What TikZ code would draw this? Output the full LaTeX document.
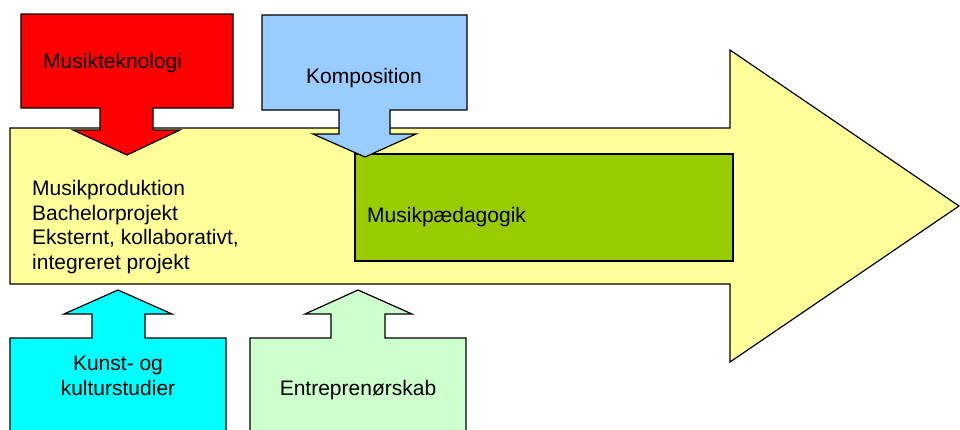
\documentclass[tikz,border=0pt]{standalone}
\usepackage{fontspec}
\setmainfont{Liberation Sans}
\definecolor{cRed}{HTML}{FF0000}
\definecolor{cBlue}{HTML}{99CCFF}
\definecolor{cYellow}{HTML}{FFFF99}
\definecolor{cGreen}{HTML}{99CC00}
\definecolor{cCyan}{HTML}{00FFFF}
\definecolor{cLight}{HTML}{CCFFCC}
\tikzset{
  shapeline/.style={draw=black, line width=1.2pt, line join=miter},
  lbl/.style={inner sep=0pt, font=\fontsize{21}{24.5}\selectfont, align=left}
}
\begin{document}
\begin{tikzpicture}[x=1pt,y=-1pt]
\useasboundingbox (0,0) rectangle (960,429);
\begin{scope}
\clip (0,0) rectangle (960,429);
% big arrow
\path[shapeline, fill=cYellow] (10,128) -- (730,128) -- (730,50) -- (959,206) -- (730,362) -- (730,284) -- (10,284) -- cycle;
% green box
\path[shapeline, fill=cGreen] (355,154) rectangle (733,261);
% red callout
\path[shapeline, fill=cRed] (21,14) -- (233,14) -- (233,108) -- (153,108) -- (153,130) -- (180,130) -- (127,155) -- (73,130) -- (100,130) -- (100,108) -- (21,108) -- cycle;
% blue callout
\path[shapeline, fill=cBlue] (262,15) -- (467,15) -- (467,110) -- (390,110) -- (390,134) -- (416,134) -- (365,157) -- (313,134) -- (339,134) -- (339,110) -- (262,110) -- cycle;
% cyan callout
\path[shapeline, fill=cCyan] (10,440) -- (10,338) -- (92,338) -- (92,314) -- (64,314) -- (118,290) -- (172,314) -- (145,314) -- (145,338) -- (226,338) -- (226,440) -- cycle;
% light green callout
\path[shapeline, fill=cLight] (250,440) -- (250,338) -- (331,338) -- (331,314) -- (305,314) -- (358,290) -- (412,314) -- (385,314) -- (385,338) -- (466,338) -- (466,440) -- cycle;
\end{scope}
% labels
\node[lbl, anchor=base west] (tek) at (43,68) {Musikteknologi};
\node[lbl, anchor=base] (komp) at (364,83) {Komposition};
\node[lbl, anchor=base west] (prod) at (32,269) {Musikproduktion\\Bachelorprojekt\\Eksternt, kollaborativt,\\integreret projekt};
\node[lbl, anchor=base west] (paed) at (367,222) {Musikpædagogik};
\node[lbl, anchor=base, align=center] (kunst) at (118,395) {Kunst- og\\kulturstudier};
\node[lbl, anchor=base] (entr) at (358,395) {Entreprenørskab};
\end{tikzpicture}
\end{document}
